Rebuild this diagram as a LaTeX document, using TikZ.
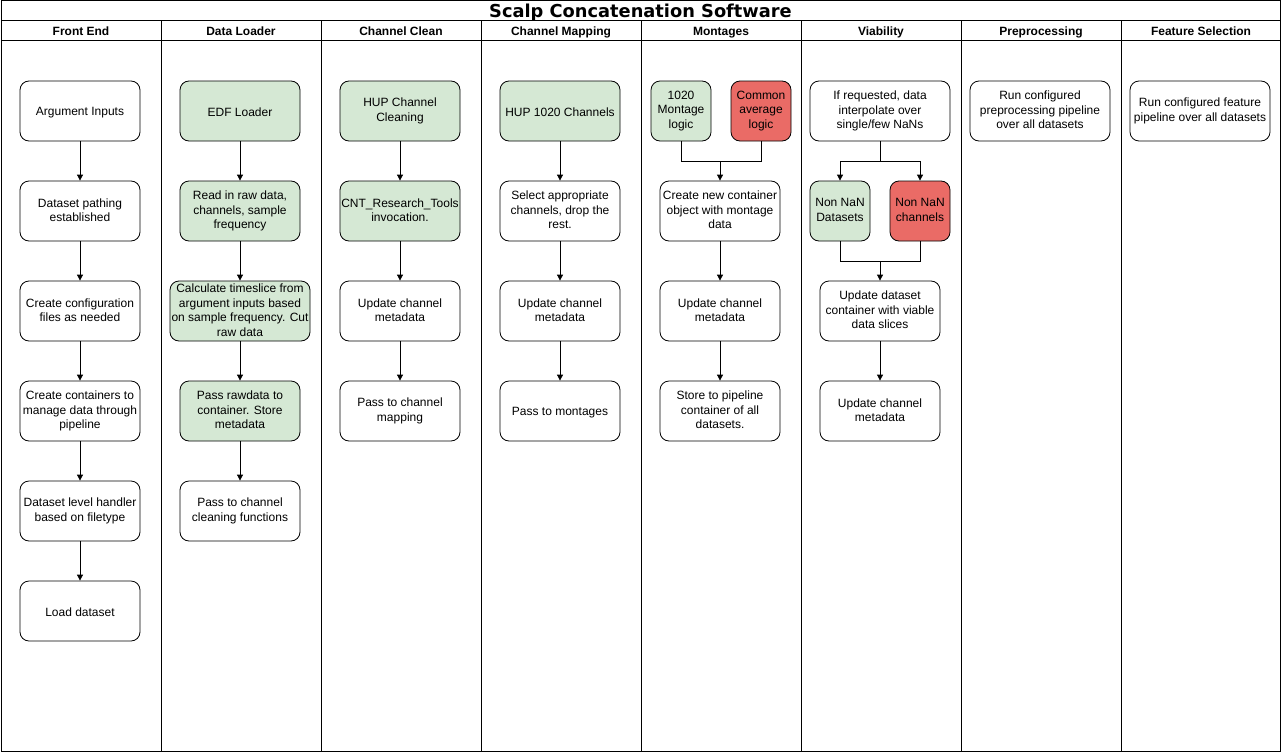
\documentclass[tikz,border=0pt]{standalone}
\usepackage{fontspec}
\setmainfont{Liberation Sans}
\newfontfamily\titlefont{DejaVu Sans}
\usetikzlibrary{arrows.meta}
\definecolor{okgreen}{HTML}{D5E8D4}
\definecolor{badred}{HTML}{EA6B66}

\begin{document}
\begin{tikzpicture}[x=1pt,y=-1pt,
    font=\fontsize{12}{14.5}\selectfont,
    box/.style={draw,line width=0.8pt,rounded corners=9pt,fill=white,
      minimum width=120pt,minimum height=60pt,inner sep=1pt,align=center,
      execute at begin node={\rule{0pt}{12pt}},
      execute at end node={\rule[-2pt]{0pt}{2pt}}},
    gbox/.style={box,fill=okgreen},
    rbox/.style={box,fill=badred},
    arr/.style={-{Triangle[length=6pt,width=6pt]},line width=0.8pt},
    lane/.style={anchor=base,font=\bfseries\fontsize{12}{14}\selectfont}]
  \useasboundingbox (0,0) rectangle (1281,752);
  % swimlanes
  \draw[line width=1pt] (1,1) rectangle (1280,751);
  \draw[line width=1pt] (1,21) -- (1280,21);
  \draw[line width=1pt] (1,41) -- (1280,41);
  \foreach \x in {161,321,481,641,801,961,1121}
    \draw[line width=1pt] (\x,21) -- (\x,751);
  \node[anchor=base,font=\titlefont\bfseries\fontsize{17.8}{18}\selectfont] (title) at (640.5,17.3) {Scalp Concatenation Software};
  \foreach \x/\name in {81/Front End,241/Data Loader,401/Channel Clean,561/Channel Mapping,
      721/Montages,881/Viability,1041/Preprocessing,1201/Feature Selection}
    \node[lane] at (\x,35.3) {\name};

  % front end
  \node[box] (fe1) at (80,111) {Argument Inputs};
  \node[box] (fe2) at (80,211) {Dataset pathing\\established};
  \node[box] (fe3) at (80,311) {Create configuration\\files as needed};
  \node[box] (fe4) at (80,411) {Create containers to\\manage data through\\pipeline};
  \node[box] (fe5) at (80,511) {Dataset level handler\\based on filetype};
  \node[box] (fe6) at (80,611) {Load dataset};
  \foreach \a/\b in {fe1/fe2,fe2/fe3,fe3/fe4,fe4/fe5,fe5/fe6}
    \draw[arr] (\a) -- (\b);

  % data loader
  \node[gbox] (dl1) at (240,111) {EDF Loader};
  \node[gbox] (dl2) at (240,211) {Read in raw data,\\channels, sample\\frequency};
  \node[gbox,minimum width=140pt] (dl3) at (240,311) {Calculate timeslice from\\argument inputs based\\on sample frequency. Cut\\raw data};
  \node[gbox] (dl4) at (240,411) {Pass rawdata to\\container. Store\\metadata};
  \node[box] (dl5) at (240,511) {Pass to channel\\cleaning functions};
  \foreach \a/\b in {dl1/dl2,dl2/dl3,dl3/dl4,dl4/dl5}
    \draw[arr] (\a) -- (\b);

  % channel clean
  \node[gbox] (cc1) at (400,111) {HUP Channel\\Cleaning};
  \node[gbox] (cc2) at (400,211) {CNT\_Research\_Tools\\invocation.};
  \node[box] (cc3) at (400,311) {Update channel\\metadata};
  \node[box] (cc4) at (400,411) {Pass to channel\\mapping};
  \foreach \a/\b in {cc1/cc2,cc2/cc3,cc3/cc4}
    \draw[arr] (\a) -- (\b);

  % channel mapping
  \node[gbox] (cm1) at (560,111) {HUP 1020 Channels};
  \node[box] (cm2) at (560,211) {Select appropriate\\channels, drop the\\rest.};
  \node[box] (cm3) at (560,311) {Update channel\\metadata};
  \node[box] (cm4) at (560,411) {Pass to montages};
  \foreach \a/\b in {cm1/cm2,cm2/cm3,cm3/cm4}
    \draw[arr] (\a) -- (\b);

  % montages
  \node[gbox,minimum width=60pt] (mt1) at (681,111) {1020\\Montage\\logic};
  \node[rbox,minimum width=60pt] (mt2) at (761,111) {Common\\average\\logic};
  \coordinate (mtj) at (720,161);
  \node[box] (mt3) at (720,211) {Create new container\\object with montage\\data};
  \node[box] (mt4) at (720,311) {Update channel\\metadata};
  \node[box] (mt5) at (720,411) {Store to pipeline\\container of all\\datasets.};
  \draw[line width=0.8pt] (mt1.south) |- (mtj);
  \draw[line width=0.8pt] (mt2.south) |- (mtj);
  \draw[arr] (mtj) -- (mt3);
  \draw[arr] (mt3) -- (mt4);
  \draw[arr] (mt4) -- (mt5);

  % viability
  \node[box,minimum width=140pt] (vb1) at (880,111) {If requested, data\\interpolate over\\single/few NaNs};
  \coordinate (vbs) at (880,161);
  \node[gbox,minimum width=60pt] (vb2) at (840,211) {Non NaN\\Datasets};
  \node[rbox,minimum width=60pt] (vb3) at (920,211) {Non NaN\\channels};
  \coordinate (vbj) at (880,261);
  \node[box] (vb4) at (880,311) {Update dataset\\container with viable\\data slices};
  \node[box] (vb5) at (880,411) {Update channel\\metadata};
  \draw[line width=0.8pt] (vb1) -- (vbs);
  \draw[arr] (vbs) -| (vb2);
  \draw[arr] (vbs) -| (vb3);
  \draw[line width=0.8pt] (vb2.south) |- (vbj);
  \draw[line width=0.8pt] (vb3.south) |- (vbj);
  \draw[arr] (vbj) -- (vb4);
  \draw[arr] (vb4) -- (vb5);

  % preprocessing, features
  \node[box,minimum width=140pt] (pp1) at (1040,111) {Run configured\\preprocessing pipeline\\over all datasets};
  \node[box,minimum width=140pt] (fs1) at (1200,111) {Run configured feature\\pipeline over all datasets};
\end{tikzpicture}
\end{document}
